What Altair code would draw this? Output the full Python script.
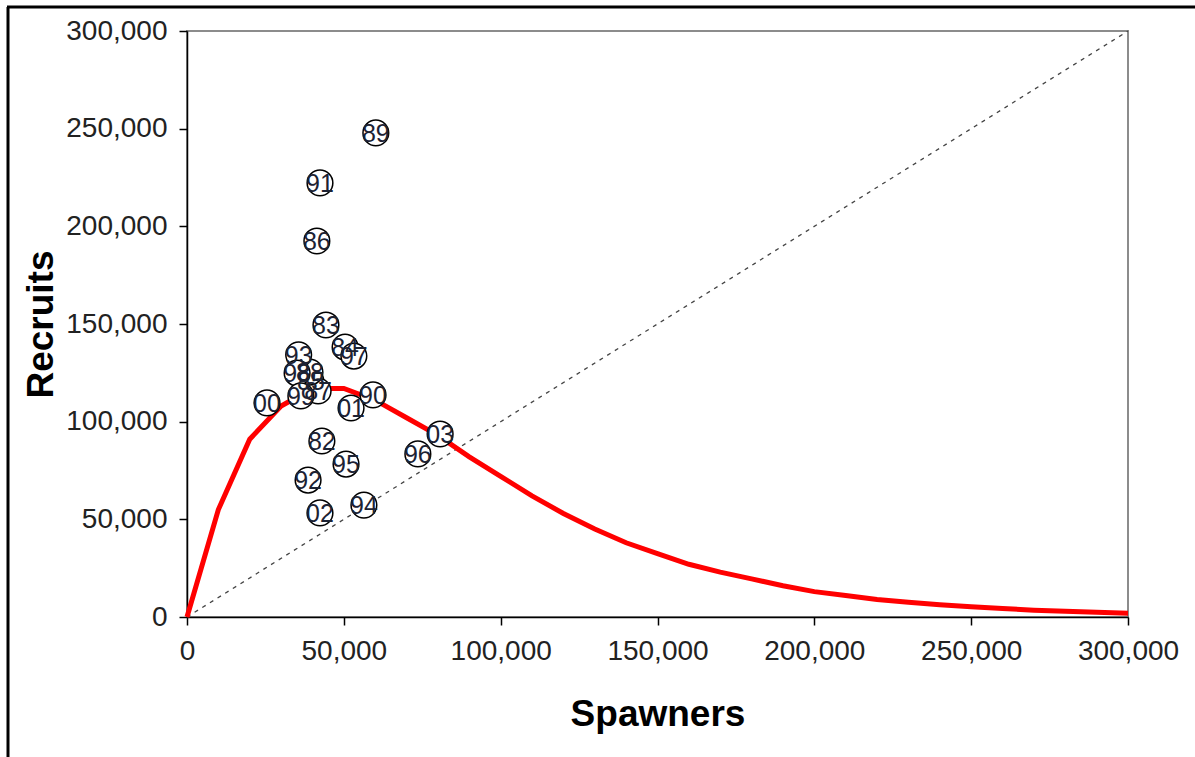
import altair as alt
import pandas as pd

years = ["82", "83", "84", "85", "86", "87", "88", "89", "90", "91", "92",
         "93", "94", "95", "96", "97", "98", "99", "00", "01", "02", "03"]
spawners = [43000, 44300, 50400, 39500, 41400, 41800, 39200, 60200, 59300, 42400, 38600,
            35600, 56400, 50700, 73600, 53200, 35100, 36300, 25500, 52300, 42400, 80700]
recruits = [90100, 149500, 138200, 120800, 192500, 115700, 125400, 247800, 113700, 222200, 70100,
            134200, 57300, 78300, 83500, 133600, 124900, 113200, 109600, 107000, 53300, 93700]

# Fitted curve, read at 10,000 spawner steps
curve_s = [0, 10000, 20000, 30000, 40000, 50000, 60000, 70000, 80000, 90000, 100000,
           110000, 120000, 130000, 140000, 150000, 160000, 170000, 180000, 190000, 200000,
           210000, 220000, 230000, 240000, 250000, 260000, 270000, 280000, 290000, 300000]
curve_r = [0, 55000, 91000, 108000, 117000, 117000, 111000, 102000, 93000, 82000, 72000,
           62000, 53000, 45000, 38000, 32500, 27000, 23000, 19500, 16000, 13000,
           11000, 9000, 7600, 6300, 5200, 4300, 3500, 2900, 2400, 1900]

# Replacement (1:1) line
rep_s = [0, 300000]
rep_r = [0, 300000]

axis_ticks = [0, 50000, 100000, 150000, 200000, 250000, 300000]

pts = pd.DataFrame({"year": years, "S": spawners, "R": recruits})
curve = pd.DataFrame({"S": curve_s, "R": curve_r})
rep = pd.DataFrame({"S": rep_s, "R": rep_r})

FONT = "Liberation Sans"

xscale = alt.Scale(domain=[0, 300000], nice=False, zero=True)
yscale = alt.Scale(domain=[0, 300000], nice=False, zero=True)

xaxis = alt.Axis(values=axis_ticks, format=",.0f", title="Spawners", grid=False,
                 labelFontSize=28, labelPadding=12, tickSize=8,
                 titleFontSize=37, titleFontWeight="bold", titleY=108,
                 titleBaseline="alphabetic", labelFlush=False, labelOverlap=False)
yaxis = alt.Axis(values=axis_ticks, format=",.0f", title="Recruits", grid=False,
                 labelFontSize=28, labelPadding=12, tickSize=8,
                 titleFontSize=37, titleFontWeight="bold", titleX=-135,
                 titleBaseline="alphabetic", labelFlush=False, labelOverlap=False)

rep_line = alt.Chart(rep).mark_line(color="#444444", strokeWidth=1.3, strokeDash=[4, 5]).encode(
    x=alt.X("S:Q", scale=xscale, axis=xaxis),
    y=alt.Y("R:Q", scale=yscale, axis=yaxis),
)

curve_line = alt.Chart(curve).mark_line(color="#ff0000", strokeWidth=5).encode(
    x=alt.X("S:Q", scale=xscale),
    y=alt.Y("R:Q", scale=yscale),
)

circles = alt.Chart(pts).mark_point(shape="circle", filled=True, fill="white",
                                     stroke="black", strokeWidth=1.5, size=660, opacity=1).encode(
    x=alt.X("S:Q", scale=xscale),
    y=alt.Y("R:Q", scale=yscale),
)

labels = alt.Chart(pts).mark_text(font=FONT, fontSize=25, color="#1c2233",
                                   align="center", baseline="middle", dy=1).encode(
    x=alt.X("S:Q", scale=xscale),
    y=alt.Y("R:Q", scale=yscale),
    text="year:N",
)

frame_df = pd.DataFrame({"a": [0]})
frame_left = alt.Chart(frame_df).mark_rule(color="black", strokeWidth=3).encode(
    x=alt.value(-179), y=alt.value(-24), y2=alt.value(730))
frame_top = alt.Chart(frame_df).mark_rule(color="black", strokeWidth=3).encode(
    x=alt.value(-180), x2=alt.value(1010), y=alt.value(-24))

chart = alt.layer(rep_line, curve_line, circles, labels, frame_left, frame_top).properties(
    width=941, height=586,
    autosize=alt.AutoSizeParams(type="none"),
    padding={"left": 187, "top": 31, "right": 67, "bottom": 140},
    background="white",
).configure_axis(
    labelFont=FONT, titleFont=FONT, labelColor="#222222", titleColor="black",
    domainColor="black", domainWidth=1.5, tickColor="black", tickWidth=1.5,
).configure_view(stroke="#8c8c8c", strokeWidth=2)

chart.save("out.html", embed_options={"renderer": "svg", "actions": False})
